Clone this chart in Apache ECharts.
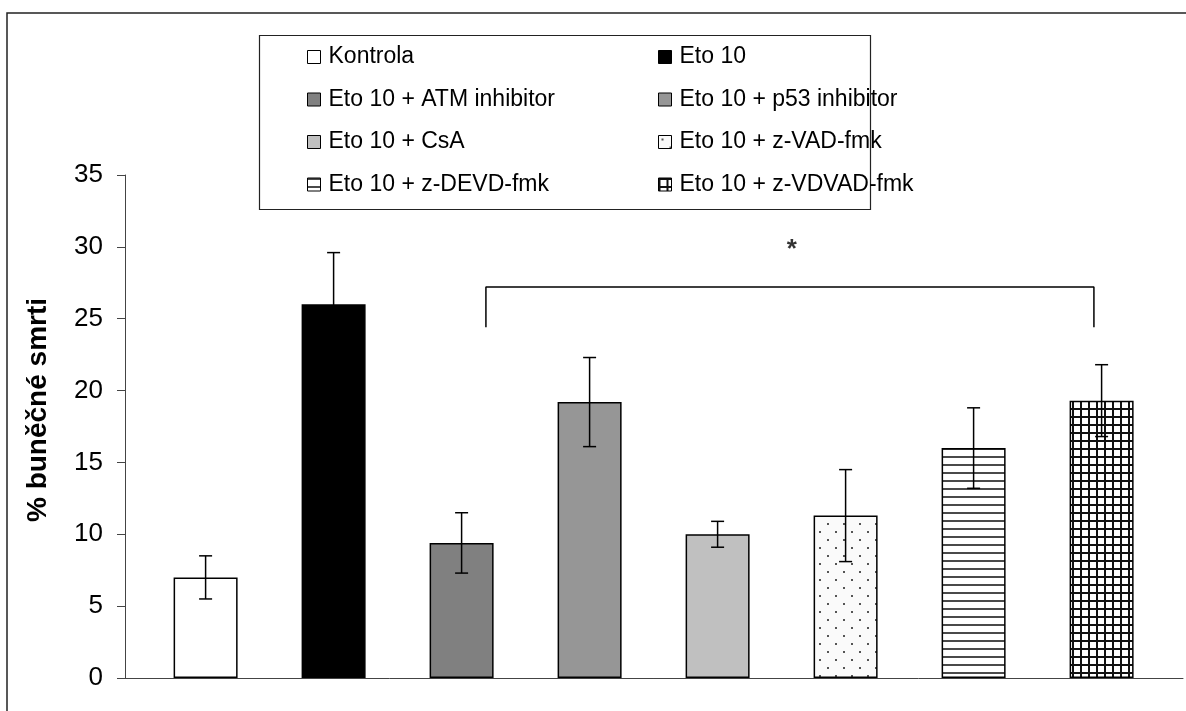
<!DOCTYPE html>
<html>
<head>
<meta charset="utf-8">
<script src="https://cdn.jsdelivr.net/npm/echarts@6/dist/echarts.min.js"></script>
<style>
  html, body { margin: 0; padding: 0; background: #fff; }
  #chart { width: 1186px; height: 711px; }
</style>
</head>
<body>
<div id="chart"></div>
<script>
// Treatment groups, mean cell death (%) and standard deviation
const categories = [
  'Kontrola', 'Eto 10', 'Eto 10 + ATM inhibitor', 'Eto 10 + p53 inhibitor',
  'Eto 10 + CsA', 'Eto 10 + z-VAD-fmk', 'Eto 10 + z-DEVD-fmk', 'Eto 10 + z-VDVAD-fmk'
];
const means  = [7.0, 26.0, 9.4, 19.2, 10.0, 11.3, 16.0, 19.3];
const errors = [1.5, 3.6, 2.1, 3.1, 0.9, 3.2, 2.8, 2.5];

// Value axis
const yMin = 0, yMax = 35, yStep = 5;
const yTitle = '% buněčné smrti';

// Significance bracket (category positions, values) and its mark
const bracketX = [2.19, 6.94];
const bracketY = [24.4, 27.2];
const starAt = [4.58, 29.8];
const starText = '*';

// Legend columns
const legendLeft  = [categories[0], categories[2], categories[4], categories[6]];
const legendRight = [categories[1], categories[3], categories[5], categories[7]];

const FONT = 'Liberation Sans, Arial, sans-serif';

function tile(w, h, draw) {
  const c = document.createElement('canvas');
  c.width = w; c.height = h;
  const ctx = c.getContext('2d');
  draw(ctx);
  return { image: c, repeat: 'repeat' };
}

const dotted = tile(16, 16, ctx => {
  ctx.fillStyle = '#fafafa'; ctx.fillRect(0, 0, 16, 16);
  ctx.fillStyle = '#555';
  ctx.fillRect(3, 3, 2, 2);
  ctx.fillRect(11, 11, 2, 2);
});
const hLines = tile(8, 8, ctx => {
  ctx.fillStyle = '#fff'; ctx.fillRect(0, 0, 8, 8);
  ctx.fillStyle = '#4a4a4a'; ctx.fillRect(0, 0, 8, 2);
});
const grid8 = tile(8, 8, ctx => {
  ctx.fillStyle = '#fff'; ctx.fillRect(0, 0, 8, 8);
  ctx.fillStyle = '#111';
  ctx.fillRect(0, 0, 8, 2);
  ctx.fillRect(0, 0, 2, 8);
});

const fills = ['#ffffff', '#000000', '#808080', '#969696', '#c0c0c0', dotted, hLines, grid8];

const gridTop = 175, gridBottom = 33;

const barSeries = categories.map((name, i) => ({
  type: 'bar',
  name,
  xAxisIndex: 0,
  yAxisIndex: 0,
  barWidth: 64,
  barGap: '-100%',
  data: categories.map((_, j) => (j === i ? means[i] : '-')),
  itemStyle: { color: fills[i], borderColor: '#000', borderWidth: 1.5 },
  emphasis: { disabled: true },
  z: 2
}));

const errorSeries = {
  type: 'custom',
  name: 'sd',
  xAxisIndex: 0,
  yAxisIndex: 0,
  z: 5,
  silent: true,
  data: means.map((m, i) => [i, m - errors[i], m + errors[i]]),
  renderItem(params, api) {
    const x = api.value(0);
    const lo = api.coord([x, api.value(1)]);
    const hi = api.coord([x, api.value(2)]);
    const half = 6.5;
    const style = { stroke: '#000', lineWidth: 1.5 };
    return {
      type: 'group',
      children: [
        { type: 'line', shape: { x1: lo[0], y1: lo[1], x2: hi[0], y2: hi[1] }, style },
        { type: 'line', shape: { x1: hi[0] - half, y1: hi[1], x2: hi[0] + half, y2: hi[1] }, style },
        { type: 'line', shape: { x1: lo[0] - half, y1: lo[1], x2: lo[0] + half, y2: lo[1] }, style }
      ]
    };
  }
};

const bracketSeries = {
  type: 'line',
  name: 'bracket',
  xAxisIndex: 2,
  yAxisIndex: 0,
  symbol: 'none',
  silent: true,
  lineStyle: { color: '#000', width: 1.5 },
  data: [
    [bracketX[0], bracketY[0]], [bracketX[0], bracketY[1]],
    [bracketX[1], bracketY[1]], [bracketX[1], bracketY[0]]
  ],
  z: 5
};

const starSeries = {
  type: 'scatter',
  name: 'star',
  xAxisIndex: 2,
  yAxisIndex: 0,
  symbolSize: 1,
  itemStyle: { color: 'rgba(0,0,0,0)' },
  silent: true,
  data: [starAt],
  label: {
    show: true, position: 'inside', formatter: starText,
    color: '#000', fontSize: 26, fontWeight: 'bold', fontFamily: FONT
  }
};

const legendCommon = {
  orient: 'vertical',
  top: 44,
  padding: 0,
  icon: 'rect',
  itemWidth: 13,
  itemHeight: 13,
  itemGap: 16.5,
  selectedMode: false,
  itemStyle: { borderColor: '#000', borderWidth: 1 },
  textStyle: { fontSize: 23, fontFamily: FONT, color: '#000', lineHeight: 26, padding: [0, 0, 0, 3] }
};

const chart = echarts.init(document.getElementById('chart'), null, { renderer: 'canvas' });
chart.setOption({
  animation: false,
  backgroundColor: '#fff',
  grid: [
    { left: 141.6, right: 20.4, top: gridTop, bottom: gridBottom },
    { left: 125, right: 3, top: gridTop, bottom: gridBottom }
  ],
  xAxis: [
    { type: 'category', gridIndex: 0, data: categories, axisLine: { show: false }, axisTick: { show: false }, axisLabel: { show: false } },
    { type: 'value', gridIndex: 1, min: 0, max: 1, splitLine: { show: false }, axisTick: { show: false }, axisLabel: { show: false },
      axisLine: { show: true, lineStyle: { color: '#444', width: 1 } } },
    { type: 'value', gridIndex: 0, min: -0.5, max: 7.5, show: false }
  ],
  yAxis: [
    { type: 'value', gridIndex: 0, min: yMin, max: yMax, interval: yStep, show: false },
    { type: 'value', gridIndex: 1, min: yMin, max: yMax, interval: yStep,
      splitLine: { show: false },
      axisLine: { show: true, lineStyle: { color: '#444', width: 1 } },
      axisTick: { show: true, inside: false, length: 8, lineStyle: { color: '#444', width: 1 } },
      axisLabel: { color: '#000', fontSize: 26, fontFamily: FONT, margin: 22 } }
  ],
  legend: [
    Object.assign({}, legendCommon, { left: 307, data: legendLeft }),
    Object.assign({}, legendCommon, { left: 658, data: legendRight })
  ],
  graphic: [
    { type: 'rect', x: 7, y: 13, z: -1, silent: true,
      shape: { x: 0, y: 0, width: 1400, height: 900 },
      style: { fill: 'none', stroke: '#222', lineWidth: 1.5 } },
    { type: 'rect', x: 259.5, y: 35.5, z: 1, silent: true,
      shape: { x: 0, y: 0, width: 611, height: 174 },
      style: { fill: '#fff', stroke: '#222', lineWidth: 1.2 } },
    { type: 'text', x: 38, y: 410, rotation: Math.PI / 2, silent: true,
      style: { text: yTitle, font: 'bold 28px ' + FONT, fill: '#000', textAlign: 'center', textVerticalAlign: 'middle' } }
  ],
  series: [...barSeries, errorSeries, bracketSeries, starSeries]
});
</script>
</body>
</html>
